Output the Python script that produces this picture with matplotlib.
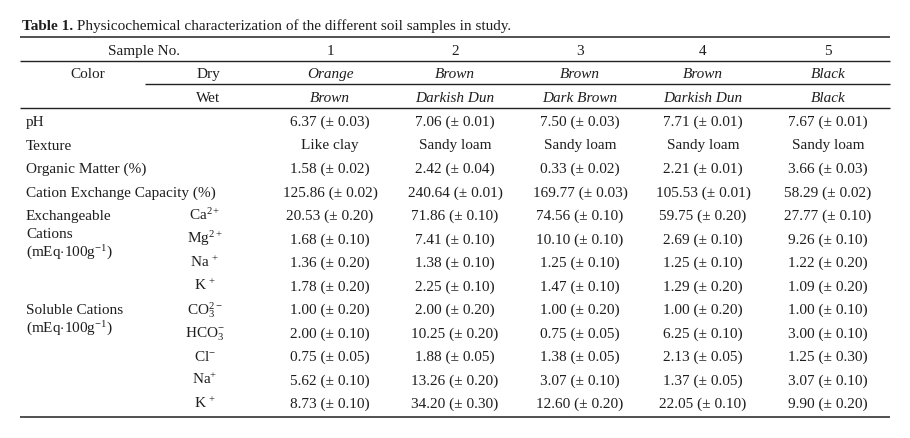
import matplotlib
matplotlib.use("Agg")
import matplotlib.pyplot as plt

plt.rcParams['font.family'] = ['Liberation Serif', 'DejaVu Serif']
plt.rcParams['mathtext.fontset'] = 'custom'
plt.rcParams['mathtext.rm'] = 'Liberation Serif'
plt.rcParams['mathtext.it'] = 'Liberation Serif:italic'
plt.rcParams['mathtext.bf'] = 'Liberation Serif:bold'

# ---------------- data ----------------
title_bold = "Table 1."
title_rest = " Physicochemical characterization of the different soil samples in study."
samples = ["1", "2", "3", "4", "5"]
color_dry = ["Orange", "Brown", "Brown", "Brown", "Black"]
color_wet = ["Brown", "Darkish Dun", "Dark Brown", "Darkish Dun", "Black"]
ph_mean = [6.37, 7.06, 7.50, 7.71, 7.67]
ph_sd = [0.03, 0.01, 0.03, 0.01, 0.01]
texture = ["Like clay", "Sandy loam", "Sandy loam", "Sandy loam", "Sandy loam"]
om_mean = [1.58, 2.42, 0.33, 2.21, 3.66]
om_sd = [0.02, 0.04, 0.02, 0.01, 0.03]
cec_mean = [125.86, 240.64, 169.77, 105.53, 58.29]
cec_sd = [0.02, 0.01, 0.03, 0.01, 0.02]
exch_ions = [r"Ca$^{2+}$", r"Mg$^{2+}$", r"Na $^{+}$", r"K $^{+}$"]
exch_mean = [[20.53, 71.86, 74.56, 59.75, 27.77],
             [1.68, 7.41, 10.10, 2.69, 9.26],
             [1.36, 1.38, 1.25, 1.25, 1.22],
             [1.78, 2.25, 1.47, 1.29, 1.09]]
exch_sd = [[0.20, 0.10, 0.10, 0.20, 0.10],
           [0.10, 0.10, 0.10, 0.10, 0.10],
           [0.20, 0.10, 0.10, 0.10, 0.20],
           [0.20, 0.10, 0.10, 0.20, 0.20]]
sol_ions = [r"CO$_3^{2-}$", r"HCO$_3^{-}$", r"Cl$^{-}$", r"Na$^{+}$", r"K $^{+}$"]
sol_mean = [[1.00, 2.00, 1.00, 1.00, 1.00],
            [2.00, 10.25, 0.75, 6.25, 3.00],
            [0.75, 1.88, 1.38, 2.13, 1.25],
            [5.62, 13.26, 3.07, 1.37, 3.07],
            [8.73, 34.20, 12.60, 22.05, 9.90]]
sol_sd = [[0.20, 0.20, 0.20, 0.20, 0.10],
          [0.10, 0.20, 0.05, 0.10, 0.10],
          [0.05, 0.05, 0.05, 0.05, 0.30],
          [0.10, 0.20, 0.10, 0.05, 0.10],
          [0.10, 0.30, 0.20, 0.10, 0.20]]

# ---------------- layout ----------------
W, H = 910, 438
fig = plt.figure(figsize=(W / 100, H / 100), dpi=100)
ax = fig.add_axes([0, 0, 1, 1])
ax.set_xlim(0, W)
ax.set_ylim(H, 0)
ax.axis('off')

TC = '#1e1e1e'
FS = 11
col_x = [330, 455, 580, 703, 828]
sub_x = 208
left_x = 26
x0, x1 = 20, 890

def fmt(m, s):
    return f"{m:.2f} (\u00b1 {s:.2f})"

def t(x, y, s, ha='center', **kw):
    return ax.text(x, y, s, ha=ha, va='baseline', fontsize=kw.pop('fontsize', FS), color=TC, **kw)

# title
tb = ax.text(22, 30, title_bold, ha='left', va='baseline', fontsize=FS, fontweight='bold', color=TC)
fig.canvas.draw()
bb = tb.get_window_extent()
xend = ax.transData.inverted().transform((bb.x1, bb.y0))[0]
ax.text(xend, 30, title_rest, ha='left', va='baseline', fontsize=FS, color=TC)

# rules
def hline(y, xa=x0, xb=x1, lw=1.0):
    ax.plot([xa, xb], [y, y], color='#222222', lw=lw, solid_capstyle='butt')

hline(37, lw=1.1)
hline(61)
hline(84, xa=145)
hline(108)
hline(417, lw=1.1)

# header
t(144, 55, "Sample No.")
for x, s in zip(col_x, samples):
    t(x, 55, s)
t(88, 78, "Color")
t(sub_x, 78, "Dry")
t(sub_x, 102, "Wet")
for x, s in zip(col_x, color_dry):
    t(x, 78, s, style='italic')
for x, s in zip(col_x, color_wet):
    t(x, 102, s, style='italic')

# body
step = 23.5
base = 126
row_y = [base + k * step for k in range(4)]
t(left_x, row_y[0], "pH", ha='left')
t(left_x, row_y[1], "Texture", ha='left')
t(left_x, row_y[2], "Organic Matter (%)", ha='left')
t(left_x, row_y[3], "Cation Exchange Capacity (%)", ha='left')
for i, x in enumerate(col_x):
    t(x, row_y[0], fmt(ph_mean[i], ph_sd[i]))
    t(x, row_y[1], texture[i])
    t(x, row_y[2], fmt(om_mean[i], om_sd[i]))
    t(x, row_y[3], fmt(cec_mean[i], cec_sd[i]))

exch_y = [base + (4 + k) * step for k in range(4)]
t(left_x, exch_y[0], "Exchangeable", ha='left')
t(left_x, exch_y[0] + 18.5, "Cations", ha='left')
t(left_x, exch_y[0] + 37, r"(mEq$\cdot$100g$^{-1}$)", ha='left')
for r, y in enumerate(exch_y):
    t(sub_x - 3, y, exch_ions[r])
    for i, x in enumerate(col_x):
        t(x, y, fmt(exch_mean[r][i], exch_sd[r][i]))

sol_y = [base + (8 + k) * step for k in range(5)]
t(left_x, sol_y[0], "Soluble Cations", ha='left')
t(left_x, sol_y[0] + 18.5, r"(mEq$\cdot$100g$^{-1}$)", ha='left')
for r, y in enumerate(sol_y):
    t(sub_x - 3, y, sol_ions[r])
    for i, x in enumerate(col_x):
        t(x, y, fmt(sol_mean[r][i], sol_sd[r][i]))

fig.savefig("out.png", dpi=100, facecolor='white')
